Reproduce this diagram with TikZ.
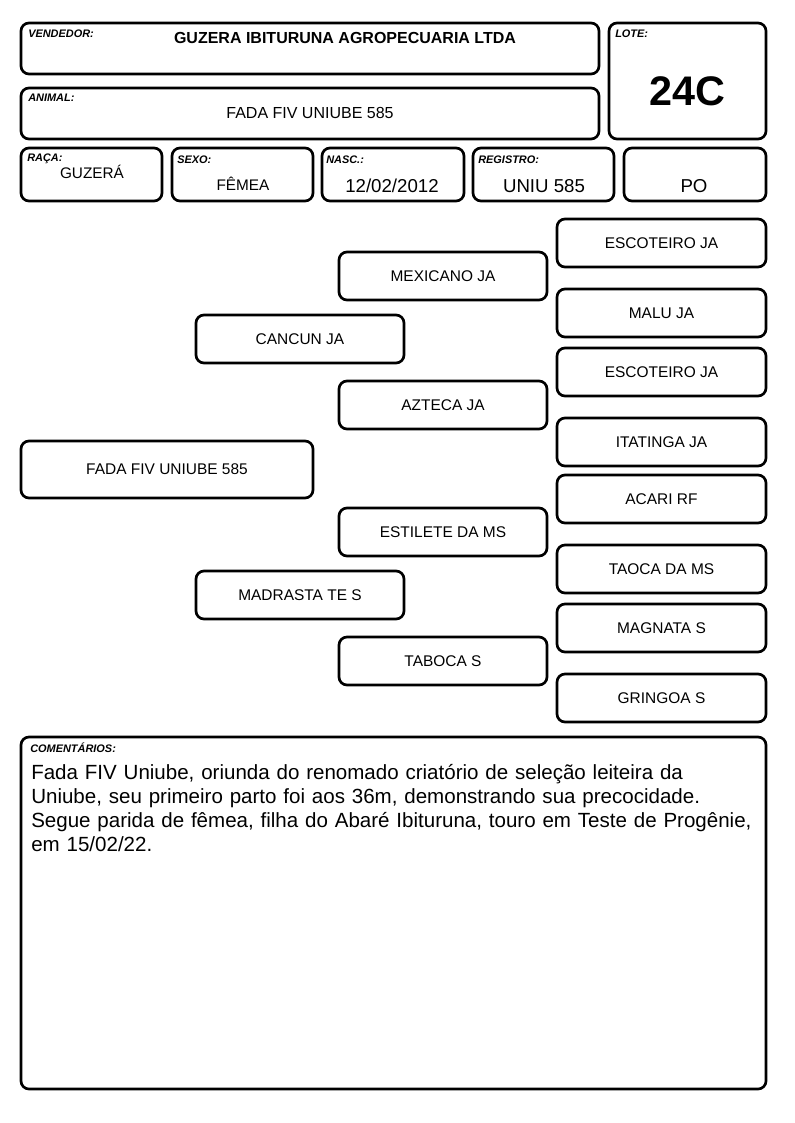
\documentclass[tikz,border=0pt]{standalone}
\usepackage{fontspec}
\setmainfont{Liberation Sans}
\newcommand\fsz[1]{\fontsize{#1}{#1}\selectfont}
\tikzset{
  box/.style={draw, line width=2pt, rounded corners=6pt, inner sep=0pt},
  lbl/.style={anchor=north west, inner sep=0pt, font=\fsz{8.2pt}\bfseries\itshape},
  ped/.style={font=\fsz{11.6pt}},
}
\newcommand\pbox[6]{\node[box, minimum width={(#4-#2)*0.75pt}, minimum height={(#5-#3)*0.75pt}] (#1) at ({(#2+#4)/2},{(#3+#5)/2}) {};}
\begin{document}
\begin{tikzpicture}[x=0.75pt,y=-0.75pt]
\useasboundingbox (0,0) rectangle (794,1123);
% header boxes
\pbox{vend}{21}{23}{599}{74}{}
\pbox{lote}{609}{23}{766}{139}{}
\pbox{anim}{21}{88}{599}{139}{}
\pbox{raca}{21}{148}{162}{201}{}
\pbox{sexo}{172}{148}{313}{201}{}
\pbox{nasc}{322}{148}{464}{201}{}
\pbox{reg}{473}{148}{614}{201}{}
\pbox{po}{624}{148}{766}{201}{}
\pbox{com}{21}{737}{766}{1089}{}
% labels
\node[lbl] (lvend) at (28,30) {VENDEDOR:};
\node[lbl] (llote) at (615,30) {LOTE:};
\node[lbl] (lanim) at (28,94) {ANIMAL:};
\node[lbl] (lraca) at (27,154) {RAÇA:};
\node[lbl] (lsexo) at (177,156) {SEXO:};
\node[lbl] (lnasc) at (326,156) {NASC.:};
\node[lbl] (lreg) at (478,156) {REGISTRO:};
\node[lbl] (lcom) at (30,743) {COMENTÁRIOS:};
% header values
\node[font=\fsz{12pt}\bfseries] (tvend) at (345,38) {GUZERA IBITURUNA AGROPECUARIA LTDA};
\node[font=\fsz{31pt}\bfseries] (tlote) at (687,91) {24C};
\node[font=\fsz{12pt}] (tanim) at (310,113) {FADA FIV UNIUBE 585};
\node[font=\fsz{11.5pt}] (traca) at (92,172) {GUZERÁ};
\node[font=\fsz{11.5pt}] (tsexo) at (243,184) {FÊMEA};
\node[font=\fsz{14pt}] (tnasc) at (392,186) {12/02/2012};
\node[font=\fsz{14pt}] (treg) at (544,186) {UNIU 585};
\node[font=\fsz{14pt}] (tpo) at (694,186) {PO};
% pedigree
\tikzset{pnode/.style={box, ped, minimum width={#1*0.75pt}, minimum height=36pt}}
\node[pnode=292, minimum height={57*0.75pt}] (fada) at (167,469.5) {FADA FIV UNIUBE 585};
\node[pnode=208] (cancun) at (300,339) {CANCUN JA};
\node[pnode=208] (madrasta) at (300,595) {MADRASTA TE S};
\node[pnode=208] (mexicano) at (443,276) {MEXICANO JA};
\node[pnode=208] (azteca) at (443,405) {AZTECA JA};
\node[pnode=208] (estilete) at (443,532) {ESTILETE DA MS};
\node[pnode=208] (taboca) at (443,661) {TABOCA S};
\node[pnode=209] (g1) at (661.5,243) {ESCOTEIRO JA};
\node[pnode=209] (g2) at (661.5,313) {MALU JA};
\node[pnode=209] (g3) at (661.5,372) {ESCOTEIRO JA};
\node[pnode=209] (g4) at (661.5,442) {ITATINGA JA};
\node[pnode=209] (g5) at (661.5,499) {ACARI RF};
\node[pnode=209] (g6) at (661.5,569) {TAOCA DA MS};
\node[pnode=209] (g7) at (661.5,628) {MAGNATA S};
\node[pnode=209] (g8) at (661.5,698) {GRINGOA S};
% comments
\node[anchor=north west, inner sep=0pt, text width=725*0.75pt, align=left, font=\fontsize{15.4pt}{18pt}\selectfont] (tcom) at (31,764)
{Fada FIV Uniube, oriunda do renomado criatório de seleção leiteira da\\
Uniube, seu primeiro parto foi aos 36m, demonstrando sua precocidade.\\
Segue parida de fêmea, filha do Abaré Ibituruna, touro em Teste de Progênie,\\
em 15/02/22.};
\end{tikzpicture}
\end{document}
